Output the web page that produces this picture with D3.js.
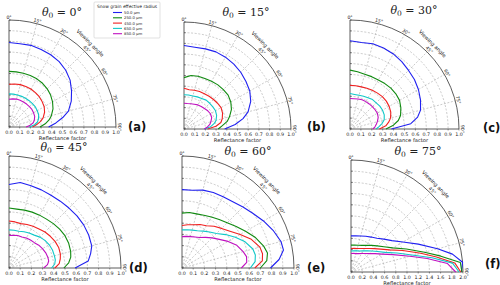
<!DOCTYPE html>
<html><head><meta charset="utf-8">
<script src="https://cdn.jsdelivr.net/npm/d3@7"></script>
<style>body{margin:0;background:#fff}svg{display:block}</style>
</head><body>
<svg id="chart" width="500" height="285"></svg>
<script>
// ---------- DATA ----------
const viewAngles = [0, 7.5, 15, 22.5, 30, 37.5, 45, 52.5, 60, 67.5, 75, 80, 85, 90];
const grainRadii = ["50.0 µm", "250.0 µm", "450.0 µm", "650.0 µm", "850.0 µm"];
const sunZenith = [0, 15, 30, 45, 60, 75];
const panelLetters = ["(a)", "(b)", "(c)", "(d)", "(e)", "(f)"];
const thetaTicks = [0, 15, 30, 45, 60, 75, 90];
const rTicksUnit = [0.0, 0.1, 0.2, 0.3, 0.4, 0.5, 0.6, 0.7, 0.8, 0.9, 1.0];
const rTicksTwo = [0.0, 0.2, 0.4, 0.6, 0.8, 1.0, 1.2, 1.4, 1.6, 1.8, 2.0];

// reflectance factor per grain radius (rows: 50, 250, 450, 650, 850 µm) at viewAngles
const reflSza0 = [
  [0.79, 0.785, 0.79, 0.785, 0.78, 0.77, 0.75, 0.72, 0.675, 0.63, 0.575, 0.51, 0.44, 0.37],
  [0.52, 0.52, 0.52, 0.52, 0.52, 0.515, 0.505, 0.49, 0.47, 0.445, 0.41, 0.38, 0.34, 0.29],
  [0.40, 0.405, 0.41, 0.41, 0.41, 0.405, 0.40, 0.39, 0.38, 0.36, 0.33, 0.30, 0.26, 0.22],
  [0.31, 0.31, 0.31, 0.31, 0.31, 0.31, 0.31, 0.31, 0.305, 0.30, 0.285, 0.27, 0.24, 0.19],
  [0.26, 0.265, 0.27, 0.27, 0.27, 0.27, 0.27, 0.27, 0.265, 0.26, 0.245, 0.23, 0.20, 0.16]
];
const reflSza15 = [
  [0.78, 0.77, 0.775, 0.78, 0.775, 0.765, 0.75, 0.73, 0.71, 0.675, 0.62, 0.56, 0.48, 0.38],
  [0.48, 0.505, 0.51, 0.51, 0.515, 0.52, 0.52, 0.52, 0.505, 0.48, 0.44, 0.41, 0.36, 0.32],
  [0.38, 0.37, 0.375, 0.38, 0.38, 0.385, 0.39, 0.395, 0.40, 0.39, 0.37, 0.35, 0.30, 0.22],
  [0.32, 0.32, 0.32, 0.325, 0.33, 0.34, 0.34, 0.34, 0.34, 0.33, 0.31, 0.285, 0.25, 0.19],
  [0.24, 0.24, 0.245, 0.25, 0.26, 0.265, 0.27, 0.28, 0.285, 0.28, 0.26, 0.245, 0.22, 0.19]
];
const reflSza30 = [
  [0.81, 0.80, 0.81, 0.805, 0.795, 0.78, 0.76, 0.745, 0.725, 0.70, 0.67, 0.63, 0.56, 0.38],
  [0.54, 0.53, 0.52, 0.52, 0.52, 0.525, 0.53, 0.53, 0.525, 0.505, 0.48, 0.45, 0.40, 0.33],
  [0.40, 0.40, 0.40, 0.405, 0.41, 0.415, 0.42, 0.42, 0.415, 0.405, 0.385, 0.36, 0.33, 0.27],
  [0.325, 0.32, 0.32, 0.325, 0.33, 0.34, 0.34, 0.345, 0.345, 0.34, 0.325, 0.30, 0.27, 0.24],
  [0.28, 0.28, 0.285, 0.29, 0.29, 0.29, 0.29, 0.29, 0.29, 0.28, 0.26, 0.245, 0.23, 0.21]
];
const reflSza45 = [
  [0.745, 0.77, 0.76, 0.755, 0.75, 0.752, 0.757, 0.765, 0.77, 0.77, 0.765, 0.74, 0.71, 0.59],
  [0.535, 0.53, 0.535, 0.54, 0.545, 0.55, 0.56, 0.57, 0.577, 0.577, 0.57, 0.56, 0.535, 0.49],
  [0.42, 0.415, 0.41, 0.42, 0.43, 0.44, 0.455, 0.465, 0.475, 0.48, 0.475, 0.465, 0.45, 0.41],
  [0.34, 0.34, 0.34, 0.35, 0.36, 0.37, 0.39, 0.405, 0.415, 0.42, 0.42, 0.42, 0.41, 0.38],
  [0.29, 0.295, 0.30, 0.30, 0.31, 0.315, 0.32, 0.335, 0.345, 0.355, 0.36, 0.36, 0.345, 0.31]
];
const reflSza60 = [
  [0.70, 0.70, 0.72, 0.73, 0.735, 0.745, 0.77, 0.80, 0.84, 0.88, 0.915, 0.92, 0.87, 0.79],
  [0.49, 0.50, 0.50, 0.51, 0.525, 0.545, 0.57, 0.61, 0.655, 0.71, 0.755, 0.775, 0.76, 0.70],
  [0.38, 0.39, 0.40, 0.42, 0.435, 0.47, 0.50, 0.54, 0.60, 0.67, 0.72, 0.73, 0.72, 0.65],
  [0.34, 0.345, 0.35, 0.36, 0.38, 0.405, 0.435, 0.49, 0.55, 0.61, 0.655, 0.665, 0.655, 0.61],
  [0.28, 0.285, 0.29, 0.30, 0.315, 0.345, 0.38, 0.42, 0.475, 0.53, 0.565, 0.585, 0.58, 0.53]
];
const reflSza75 = [
  [0.645, 0.65, 0.665, 0.69, 0.72, 0.76, 0.83, 0.92, 1.07, 1.30, 1.60, 1.84, 2.0, 1.97],
  [0.48, 0.485, 0.495, 0.515, 0.55, 0.60, 0.66, 0.74, 0.86, 1.07, 1.36, 1.63, 1.96, 1.98],
  [0.42, 0.425, 0.435, 0.455, 0.485, 0.53, 0.59, 0.67, 0.79, 1.00, 1.29, 1.55, 1.86, 1.96],
  [0.376, 0.38, 0.39, 0.405, 0.435, 0.475, 0.53, 0.60, 0.70, 0.89, 1.16, 1.47, 1.82, 1.93],
  [0.33, 0.335, 0.34, 0.355, 0.38, 0.415, 0.465, 0.54, 0.64, 0.81, 1.09, 1.38, 1.73, 1.87]
];
const allRefl = [reflSza0, reflSza15, reflSza30, reflSza45, reflSza60, reflSza75];

// ---------- STYLE / LAYOUT ----------
const colors = ["#2020f0", "#108a10", "#f02020", "#10c8c8", "#c010c0"];
const layout = [
  {ox: 9,   oy: 127, R: 107, tx: 62,  ty: 12,  lx: 128, ly: 131},
  {ox: 184, oy: 129, R: 107, tx: 246, ty: 12,  lx: 307, ly: 131},
  {ox: 350, oy: 129, R: 109, tx: 414, ty: 10,  lx: 483, ly: 132},
  {ox: 9,   oy: 268, R: 112, tx: 64,  ty: 147, lx: 129, ly: 272},
  {ox: 182, oy: 268, R: 112, tx: 248, ty: 151, lx: 307, ly: 272},
  {ox: 351, oy: 272, R: 112, tx: 418, ty: 151, lx: 485, ly: 268}
];
const FONT = "DejaVu Sans, Verdana, sans-serif";

const svg = d3.select("#chart");
svg.append("rect").attr("width", 500).attr("height", 285).attr("fill", "#fff");

allRefl.forEach((series, i) => {
  const L = layout[i];
  const ticks = i === 5 ? rTicksTwo : rTicksUnit;
  const rMax = ticks[ticks.length - 1];
  const r = d3.scaleLinear().domain([0, rMax]).range([0, L.R]);
  const th = d3.scaleLinear().domain([0, 90]).range([0, Math.PI / 2]);
  const g = svg.append("g").attr("transform", `translate(${L.ox},${L.oy})`);
  const px = (a, rad) => rad * Math.sin(th(a));
  const py = (a, rad) => -rad * Math.cos(th(a));

  // grid circles
  ticks.slice(1, -1).forEach(t => {
    const p = d3.path();
    p.moveTo(0, -r(t));
    p.arc(0, 0, r(t), -Math.PI / 2, 0);
    g.append("path").attr("d", p.toString()).attr("fill", "none")
      .attr("stroke", "#a8a8a8").attr("stroke-width", 0.6).attr("stroke-dasharray", "2,1.6");
  });
  // radial spokes
  thetaTicks.slice(1, -1).forEach(a => {
    g.append("line").attr("x1", 0).attr("y1", 0)
      .attr("x2", px(a, r(rMax))).attr("y2", py(a, r(rMax)))
      .attr("stroke", "#a8a8a8").attr("stroke-width", 0.6).attr("stroke-dasharray", "2,1.6");
  });
  // outer arc and spines
  const outer = d3.path();
  outer.moveTo(0, -r(rMax));
  outer.arc(0, 0, r(rMax), -Math.PI / 2, 0);
  g.append("path").attr("d", outer.toString()).attr("fill", "none").attr("stroke", "#333").attr("stroke-width", 0.8);
  g.append("line").attr("x1", 0).attr("y1", 0).attr("x2", 0).attr("y2", -r(rMax)).attr("stroke", "#333").attr("stroke-width", 0.8);
  g.append("line").attr("x1", 0).attr("y1", 0).attr("x2", r(rMax)).attr("y2", 0).attr("stroke", "#333").attr("stroke-width", 0.8);

  // radial ticks + labels
  ticks.forEach(t => {
    g.append("line").attr("x1", r(t)).attr("x2", r(t)).attr("y1", 0).attr("y2", 1.5).attr("stroke", "#333").attr("stroke-width", 0.5);
    g.append("line").attr("x1", 0).attr("x2", 1.8).attr("y1", -r(t)).attr("y2", -r(t)).attr("stroke", "#333").attr("stroke-width", 0.5);
    g.append("text").attr("x", r(t)).attr("y", 6.5).attr("text-anchor", "middle")
      .attr("font-family", FONT).attr("font-size", 4.8).attr("fill", "#222").text(t.toFixed(1));
  });
  g.append("text").attr("x", L.R / 2).attr("y", 12.5).attr("text-anchor", "middle")
    .attr("font-family", FONT).attr("font-size", 5.2).attr("fill", "#222").text("Reflectance factor");

  // angular labels
  thetaTicks.forEach(a => {
    const rr = r(rMax) + 3;
    g.append("text").attr("transform", `translate(${px(a, rr)},${py(a, rr)}) rotate(${a})`)
      .attr("text-anchor", "middle").attr("dominant-baseline", "central")
      .attr("font-family", FONT).attr("font-size", 4.6).attr("fill", "#222").text(a + "°");
  });
  const va = 44, vr = r(rMax) + 10;
  g.append("text").attr("transform", `translate(${px(va, vr)},${py(va, vr)}) rotate(45)`)
    .attr("text-anchor", "middle").attr("dominant-baseline", "central")
    .attr("font-family", FONT).attr("font-size", 5.2).attr("fill", "#222").text("Viewing angle");

  // curves
  const line = d3.lineRadial().angle(d => th(d[0])).radius(d => r(d[1]));
  series.forEach((vals, k) => {
    const pts = viewAngles.map((a, j) => [a, vals[j]]);
    g.append("path").attr("d", line(pts)).attr("fill", "none")
      .attr("stroke", colors[k]).attr("stroke-width", 1.1).attr("stroke-linejoin", "round");
  });

  // title
  const t = svg.append("text").attr("x", L.tx).attr("y", L.ty).attr("text-anchor", "middle")
    .attr("dominant-baseline", "central").attr("font-family", "DejaVu Serif, Liberation Serif, serif")
    .attr("font-size", 11).attr("fill", "#222");
  t.append("tspan").attr("font-style", "italic").text("θ");
  t.append("tspan").attr("font-size", 7.5).attr("dy", 2.5).text("0");
  t.append("tspan").attr("dy", -2.5).text(" = " + sunZenith[i] + "°");

  // letter
  svg.append("text").attr("x", L.lx).attr("y", L.ly).attr("font-family", FONT)
    .attr("font-weight", "bold").attr("font-size", 11.5).attr("fill", "#111").text(panelLetters[i]);
});

// legend
const lg = svg.append("g").attr("transform", "translate(94,2)");
lg.append("rect").attr("width", 66).attr("height", 36).attr("rx", 1).attr("fill", "#fff")
  .attr("stroke", "#ccc").attr("stroke-width", 0.6);
lg.append("text").attr("x", 33).attr("y", 5.5).attr("text-anchor", "middle")
  .attr("font-family", FONT).attr("font-size", 4.4).attr("fill", "#222").text("Snow grain effective radius");
grainRadii.forEach((lab, k) => {
  const y = 10.5 + k * 5.3;
  lg.append("line").attr("x1", 19).attr("x2", 28).attr("y1", y).attr("y2", y)
    .attr("stroke", colors[k]).attr("stroke-width", 1.1);
  lg.append("text").attr("x", 30).attr("y", y).attr("dominant-baseline", "central")
    .attr("font-family", FONT).attr("font-size", 3.8).attr("fill", "#222").text(lab);
});
</script>
</body></html>
